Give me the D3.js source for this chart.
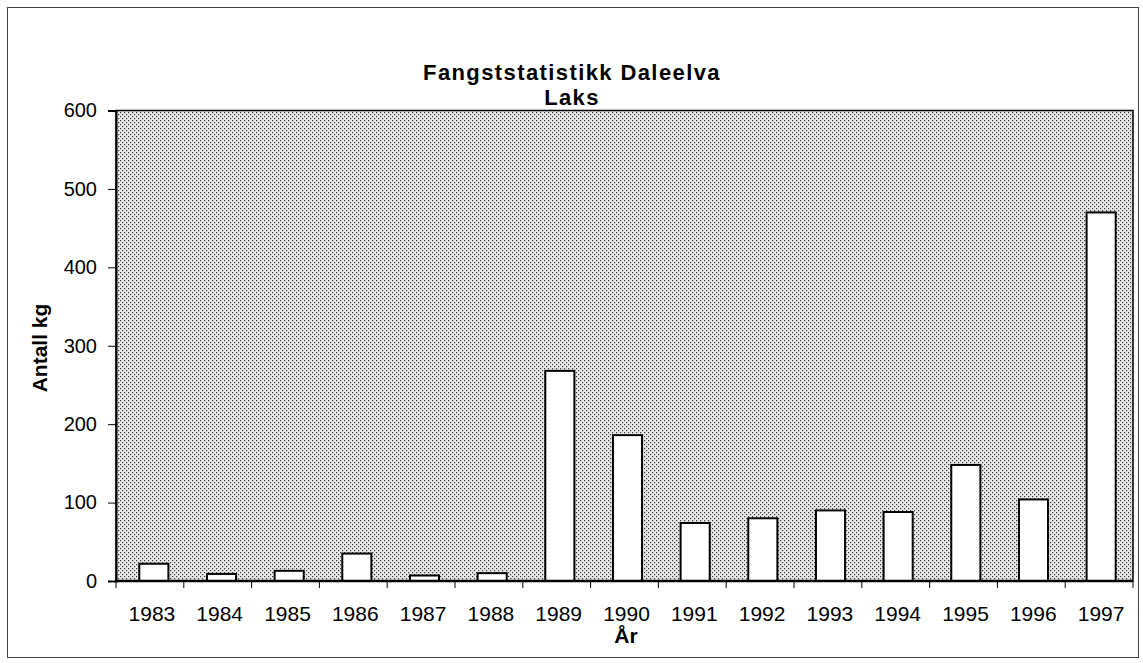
<!DOCTYPE html>
<html><head><meta charset="utf-8">
<script src="https://cdn.jsdelivr.net/npm/d3@7"></script>
<style>body{margin:0;background:#fff}svg{display:block}text{font-family:"Liberation Sans",Arial,sans-serif;fill:#000}</style>
</head><body>
<svg id="c" width="1143" height="663"></svg>
<script>
const years = ["1983","1984","1985","1986","1987","1988","1989","1990","1991","1992","1993","1994","1995","1996","1997"];
const values = [22, 9, 13, 35, 7, 10, 268, 186, 74, 80, 90, 88, 148, 104, 470];
const yTicks = [0, 100, 200, 300, 400, 500, 600];
const titleLines = ["Fangststatistikk Daleelva", "Laks"];
const yLabel = "Antall kg";
const xLabel = "År";

const svg = d3.select("#c");
const m = {left:116, top:110.5, right:1133, bottom:581};

const defs = svg.append("defs");
const pat = defs.append("pattern").attr("id","dots").attr("patternUnits","userSpaceOnUse").attr("width",4).attr("height",4);
pat.append("rect").attr("width",4).attr("height",4).attr("fill","#e8e8e8");
pat.append("rect").attr("x",0).attr("y",0).attr("width",1.2).attr("height",1.2).attr("fill","#3a3a3a");
pat.append("rect").attr("x",2).attr("y",2).attr("width",1.2).attr("height",1.2).attr("fill","#3a3a3a");

// outer frame
svg.append("rect").attr("x",7.5).attr("y",7.5).attr("width",1131).attr("height",650)
  .attr("fill","none").attr("stroke","#444").attr("stroke-width",1);

const x = d3.scaleBand().domain(years).range([m.left, m.right]).paddingInner(0.57).paddingOuter(0.3);
const xb = d3.scaleBand().domain(years).range([m.left, m.right]).padding(0);
const y = d3.scaleLinear().domain([0,600]).range([m.bottom, m.top]);

// plot background
svg.append("rect").attr("x",m.left).attr("y",m.top).attr("width",m.right-m.left).attr("height",m.bottom-m.top)
  .attr("fill","url(#dots)").attr("stroke","#000").attr("stroke-width",1.5);

// bars
svg.append("g").selectAll("rect").data(values).join("rect")
  .attr("x",(d,i)=>x(years[i])+3)
  .attr("y",d=>y(d))
  .attr("width",x.bandwidth())
  .attr("height",d=>y(0)-y(d))
  .attr("fill","#fff").attr("stroke","#000").attr("stroke-width",2);

// y axis
const ya = svg.append("g").attr("transform",`translate(${m.left},0)`)
  .call(d3.axisLeft(y).tickValues(yTicks).tickSize(8).tickPadding(11));
ya.select(".domain").attr("stroke","#000").attr("stroke-width",2);
ya.selectAll(".tick line").attr("stroke","#000");
ya.selectAll(".tick text").style("font-size","20px").attr("fill","#000");

// x axis: ticks at band boundaries
const xg = svg.append("g");
xg.append("line").attr("x1",m.left).attr("x2",m.right).attr("y1",y(0)).attr("y2",y(0)).attr("stroke","#000").attr("stroke-width",2.5);
const bounds = years.map(d=>xb(d)).concat([m.right]);
xg.selectAll("line.t").data(bounds).join("line").attr("class","t")
  .attr("x1",d=>d).attr("x2",d=>d).attr("y1",y(0)).attr("y2",y(0)+7).attr("stroke","#000").attr("stroke-width",1);
xg.selectAll("text").data(years).join("text")
  .attr("x",d=>xb(d)+xb.bandwidth()/2+2).attr("y",621)
  .attr("text-anchor","middle").style("font-size","21px").text(d=>d);

// titles
svg.selectAll("text.title").data(titleLines).join("text").attr("class","title")
  .attr("x",572).attr("y",(d,i)=>80+i*25).attr("text-anchor","middle")
  .style("font-size","22px").style("letter-spacing","1.4px").style("font-weight","bold").text(d=>d);

svg.append("text").attr("transform","translate(47,348) rotate(-90)").attr("text-anchor","middle")
  .style("font-size","21px").style("font-weight","bold").text(yLabel);
svg.append("text").attr("x",626).attr("y",643).attr("text-anchor","middle")
  .style("font-size","21px").style("font-weight","bold").text(xLabel);
</script>
</body></html>
